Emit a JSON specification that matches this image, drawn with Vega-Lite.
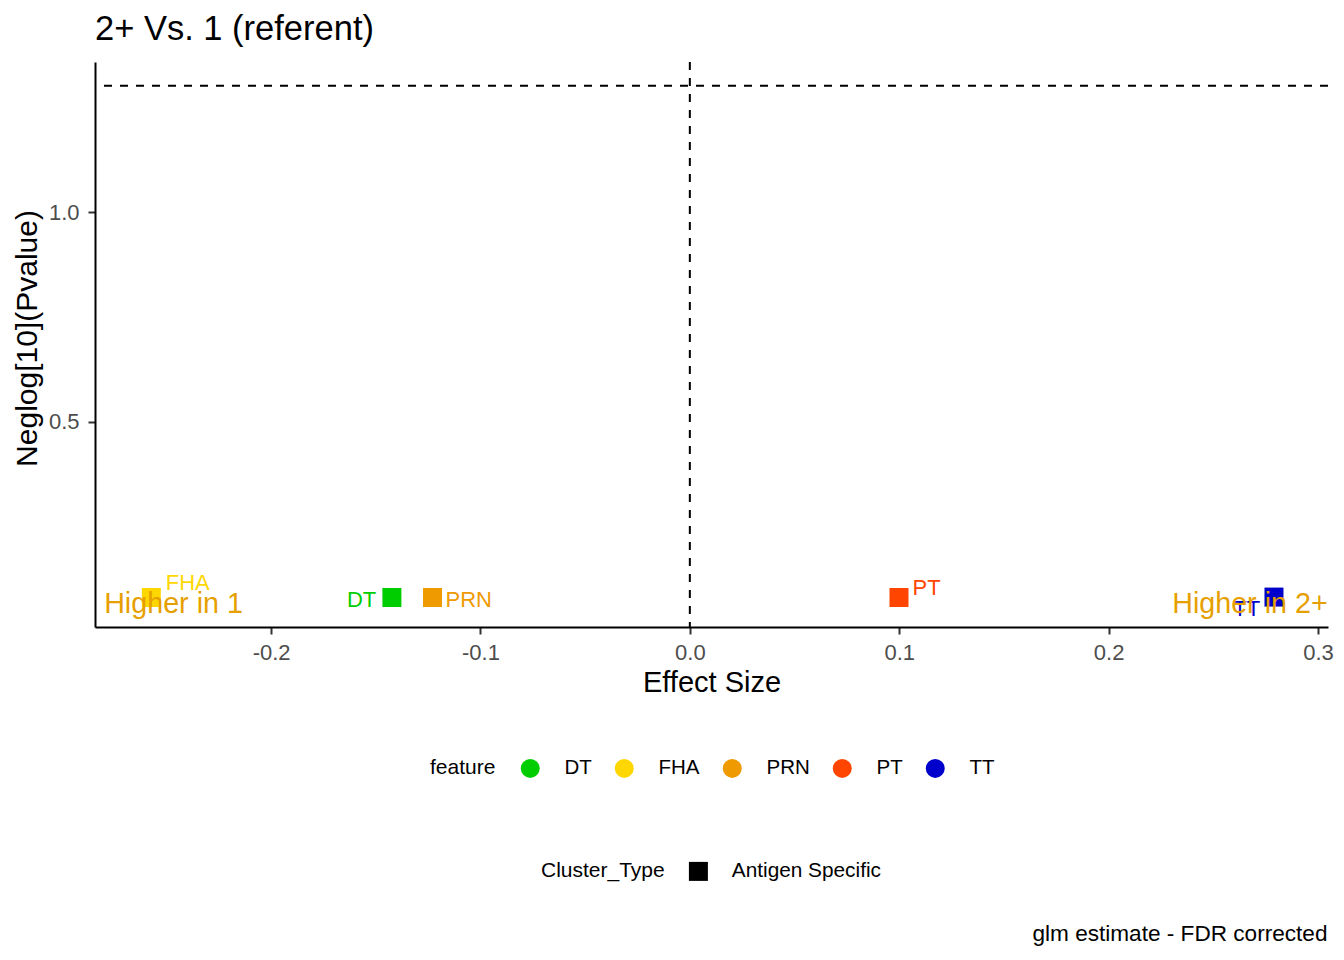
{
  "$schema": "https://vega.github.io/schema/vega-lite/v6.json",
  "autosize": {"type": "none"},
  "width": 1233,
  "height": 565,
  "padding": {"left": 95, "top": 62, "right": 16, "bottom": 333},
  "background": "white",
  "title": {
    "text": "2+ Vs. 1 (referent)",
    "anchor": "start",
    "frame": "group",
    "baseline": "alphabetic",
    "offset": -13,
    "fontSize": 34.5,
    "fontWeight": "normal",
    "color": "black"
  },
  "datasets": {
    "points": [
      {"feature": "DT", "Cluster_Type": "Antigen Specific", "estimate": -0.1423, "neglog_p": 0.0815, "label_x": -0.1568, "label_y": 0.0596},
      {"feature": "FHA", "Cluster_Type": "Antigen Specific", "estimate": -0.2572, "neglog_p": 0.0815, "label_x": -0.2398, "label_y": 0.0994},
      {"feature": "PRN", "Cluster_Type": "Antigen Specific", "estimate": -0.1229, "neglog_p": 0.0815, "label_x": -0.1056, "label_y": 0.0596},
      {"feature": "PT", "Cluster_Type": "Antigen Specific", "estimate": 0.0999, "neglog_p": 0.0815, "label_x": 0.1131, "label_y": 0.0875},
      {"feature": "TT", "Cluster_Type": "Antigen Specific", "estimate": 0.279, "neglog_p": 0.0825, "label_x": 0.266, "label_y": 0.037}
    ],
    "notes": [
      {"note": "Higher in 1", "estimate": -0.2466, "neglog_p": 0.0453},
      {"note": "Higher in 2+", "estimate": 0.2675, "neglog_p": 0.0453}
    ]
  },
  "layer": [
    {
      "layer": [
        {
          "data": {"values": [{"estimate": 0}]},
          "mark": {"type": "rule", "strokeDash": [8, 8], "strokeWidth": 2, "color": "black"},
          "encoding": {
            "x": {"field": "estimate", "type": "quantitative", "scale": {"domain": [-0.2841, 0.3048], "nice": false, "zero": false}}
          }
        },
        {
          "data": {"values": [{"neglog_p": 1.30103}]},
          "mark": {"type": "rule", "strokeDash": [8, 8], "strokeWidth": 2, "color": "black"},
          "encoding": {
            "y": {"field": "neglog_p", "type": "quantitative", "scale": {"domain": [0.0112, 1.3577], "nice": false, "zero": false}}
          }
        },
        {
          "data": {"name": "points"},
          "mark": {"type": "point", "filled": true, "size": 361, "opacity": 1},
          "encoding": {
            "x": {
              "field": "estimate",
              "type": "quantitative",
              "scale": {"domain": [-0.2841, 0.3048], "nice": false, "zero": false},
              "axis": {
                "orient": "bottom",
                "values": [-0.2, -0.1, 0, 0.1, 0.2, 0.3],
                "labelExpr": "replace(format(datum.value, '.1f'), '\u2212', '-')",
                "grid": false,
                "domainColor": "black",
                "domainWidth": 2,
                "tickColor": "#333333",
                "tickWidth": 2,
                "tickSize": 7,
                "labelColor": "#4D4D4D",
                "labelFontSize": 22,
                "labelPadding": 8,
                "title": "Effect Size",
                "titleFontSize": 29,
                "titleFontWeight": "normal",
                "titleColor": "black",
                "titleBaseline": "alphabetic",
                "titleY": 64.7
              }
            },
            "y": {
              "field": "neglog_p",
              "type": "quantitative",
              "scale": {"domain": [0.0112, 1.3577], "nice": false, "zero": false},
              "axis": {
                "values": [0.5, 1.0],
                "format": ".1f",
                "grid": false,
                "domainColor": "black",
                "domainWidth": 2,
                "tickColor": "#333333",
                "tickWidth": 2,
                "tickSize": 7,
                "labelColor": "#4D4D4D",
                "labelFontSize": 22,
                "labelPadding": 9,
                "title": "Neglog[10](Pvalue)",
                "titleFontSize": 30,
                "titleFontWeight": "normal",
                "titleColor": "black",
                "titleAngle": 270,
                "titleAlign": "center",
                "titleBaseline": "alphabetic",
                "titleX": -58.3,
                "titleY": 276
              }
            },
            "color": {
              "field": "feature",
              "type": "nominal",
              "scale": {
                "domain": ["DT", "FHA", "PRN", "PT", "TT"],
                "range": ["#00CD00", "#FFD700", "#EE9A00", "#FF4500", "#0000CD"]
              },
              "legend": {
                "title": "feature",
                "orient": "none",
                "legendX": 335,
                "legendY": 696,
                "direction": "horizontal",
                "titleOrient": "left",
                "symbolType": "circle",
                "symbolSize": 361,
                "symbolStrokeWidth": 0,
                "symbolOpacity": 1,
                "labelFontSize": 20.5,
                "labelColor": "black",
                "labelOffset": 24,
                "columnPadding": 22,
                "titleFontSize": 21,
                "titleFontWeight": "normal",
                "titleColor": "black",
                "titlePadding": 24
              }
            },
            "shape": {
              "field": "Cluster_Type",
              "type": "nominal",
              "scale": {"domain": ["Antigen Specific"], "range": ["square"]},
              "legend": {
                "title": "Cluster_Type",
                "orient": "none",
                "legendX": 446,
                "legendY": 799,
                "direction": "horizontal",
                "titleOrient": "left",
                "symbolSize": 361,
                "symbolFillColor": "black",
                "symbolStrokeColor": "black",
                "symbolStrokeWidth": 0,
                "symbolOpacity": 1,
                "labelFontSize": 20.8,
                "labelColor": "black",
                "labelOffset": 23,
                "titleFontSize": 21,
                "titleFontWeight": "normal",
                "titleColor": "black",
                "titlePadding": 23
              }
            }
          }
        },
        {
          "data": {"name": "points"},
          "mark": {"type": "text", "fontSize": 22, "align": "center", "baseline": "alphabetic"},
          "encoding": {
            "x": {"field": "label_x", "type": "quantitative", "scale": {"domain": [-0.2841, 0.3048], "nice": false, "zero": false}},
            "y": {"field": "label_y", "type": "quantitative", "scale": {"domain": [0.0112, 1.3577], "nice": false, "zero": false}},
            "text": {"field": "feature"},
            "color": {"field": "feature", "type": "nominal", "legend": null}
          }
        },
        {
          "data": {"name": "notes"},
          "mark": {"type": "text", "fontSize": 28.7, "align": "center", "baseline": "alphabetic", "color": "#E69F00"},
          "encoding": {
            "x": {"field": "estimate", "type": "quantitative", "scale": {"domain": [-0.2841, 0.3048], "nice": false, "zero": false}},
            "y": {"field": "neglog_p", "type": "quantitative", "scale": {"domain": [0.0112, 1.3577], "nice": false, "zero": false}},
            "text": {"field": "note"}
          }
        }
      ]
    },
    {
      "data": {"values": [{"caption": "glm estimate - FDR corrected"}]},
      "mark": {"type": "text", "opacity": 0},
      "encoding": {
        "x": {
          "datum": 0,
          "type": "quantitative",
          "scale": {"domain": [0, 1]},
          "axis": {
            "orient": "bottom",
            "labels": false,
            "ticks": false,
            "domain": false,
            "grid": false,
            "title": "glm estimate - FDR corrected",
            "titleFontSize": 22.6,
            "titleFontWeight": "normal",
            "titleColor": "black",
            "titleAlign": "right",
            "titleAnchor": "end",
            "titleBaseline": "alphabetic",
            "titleX": 1232,
            "titleY": 313.7
          }
        }
      }
    }
  ],
  "resolve": {"scale": {"x": "independent"}, "axis": {"x": "independent"}},
  "config": {
    "font": "Liberation Sans",
    "view": {"stroke": null}
  }
}
